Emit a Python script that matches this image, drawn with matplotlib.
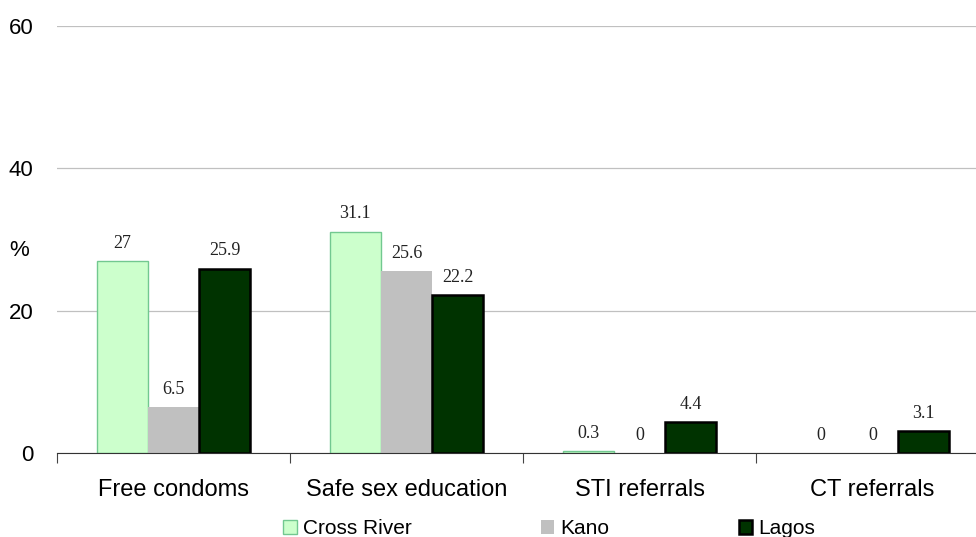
import numpy as np
import matplotlib.pyplot as plt

# ---------------- data ----------------
categories = ["Free condoms", "Safe sex education", "STI referrals", "CT referrals"]
series = ["Cross River", "Kano", "Lagos"]
cross_river = [27, 31.1, 0.3, 0]
kano = [6.5, 25.6, 0, 0]
lagos = [25.9, 22.2, 4.4, 3.1]
yticks = [0, 20, 40, 60]

faces = ["#CCFFCC", "#C0C0C0", "#003300"]
edges = ["#72C890", "#C0C0C0", "#000000"]
lws = [1.0, 0.0, 1.8]

plt.rcParams["font.family"] = ["Liberation Sans", "DejaVu Sans"]

fig = plt.figure(figsize=(9.76, 5.37), dpi=100)
ax = fig.add_axes([0.0584, 0.1564, 0.955, 0.7952])

x = np.arange(len(categories))
w = 0.22
for i, (vals, name) in enumerate(zip([cross_river, kano, lagos], series)):
    pos = x + (i - 1) * w
    # no outline on empty bars
    lw = [lws[i] if v > 0 else 0 for v in vals]
    ax.bar(pos, vals, w, color=faces[i], edgecolor=edges[i], linewidth=lw,
           label=name, zorder=3)
    for p, v in zip(pos, vals):
        ax.annotate(f"{v:g}", (p, v), xytext=(0, 9.5), textcoords="offset points",
                    ha="center", va="baseline", family=["Liberation Serif"],
                    fontsize=13, color="#222222")

ax.set_xlim(-0.5, 3.5)
ax.set_ylim(0, 60)
ax.set_yticks(yticks)
ax.yaxis.grid(True, color="#C0C0C0", linewidth=0.9, zorder=0)
ax.tick_params(axis="y", length=0, labelsize=16, pad=17)
ax.set_xticks(np.arange(-0.5, 4, 1), minor=False)
ax.set_xticklabels([])
ax.set_xticks(x, minor=True)
ax.set_xticklabels(categories, minor=True, fontsize=17)
ax.tick_params(axis="x", which="major", length=7, color="#444444", direction="out")
ax.tick_params(axis="x", which="minor", length=0, pad=19)
for s in ["top", "right", "left"]:
    ax.spines[s].set_visible(False)
ax.spines["bottom"].set_color("#333333")
ax.spines["bottom"].set_zorder(4)

fig.text(0.009, 0.533, "%", fontsize=16, ha="left", va="center")

fig.legend(loc="center left", bbox_to_anchor=(283 / 976, 0.016), ncol=3, frameon=False,
           fontsize=15, handlelength=0.65, handleheight=0.65, handletextpad=0.3,
           columnspacing=6.2, borderpad=0, borderaxespad=0)

fig.savefig("out.png", dpi=100)
